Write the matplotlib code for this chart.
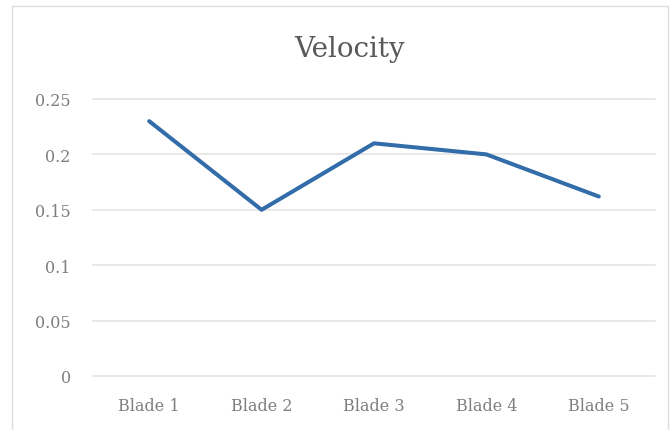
import matplotlib

matplotlib.use("Agg")

import matplotlib.pyplot as plt
from matplotlib.patches import Rectangle


CATEGORIES = ["Blade 1", "Blade 2", "Blade 3", "Blade 4", "Blade 5"]
VELOCITY = [0.23, 0.15, 0.21, 0.2, 0.162]
Y_TICKS = [0, 0.05, 0.1, 0.15, 0.2, 0.25]
Y_TICK_LABELS = ["0", "0.05", "0.1", "0.15", "0.2", "0.25"]

LINE_COLOR = "#326ca9"
TEXT_COLOR = "#7f7f7f"
GRID_COLOR = "#e4e4e4"

plt.rcParams["font.family"] = ["DejaVu Serif"]

W, H = 670, 431
fig = plt.figure(figsize=(W / 100, H / 100), dpi=100)
fig.patch.set_facecolor("white")

# chart frame like the spreadsheet chart border
fig.patches.append(
    Rectangle((12 / W, -0.05), (668 - 12) / W, 1.05 - 7 / H,
              transform=fig.transFigure, fill=False,
              edgecolor="#dcdcdc", linewidth=1.0)
)

ax = fig.add_axes([93 / W, 1 - 377 / H, (655 - 93) / W, (377 - 100) / H])
x = range(len(CATEGORIES))
ax.plot(x, VELOCITY, color=LINE_COLOR, linewidth=2.9, solid_joinstyle="round",
        solid_capstyle="round")

ax.set_xlim(-0.5, len(CATEGORIES) - 0.5)
ax.set_ylim(0, 0.25)
ax.set_xticks(list(x))
ax.set_xticklabels(CATEGORIES)
ax.set_yticks(Y_TICKS)
ax.set_yticklabels(Y_TICK_LABELS)
ax.tick_params(length=0, colors=TEXT_COLOR, labelsize=11.5)
ax.tick_params(axis="x", pad=15)
ax.tick_params(axis="y", pad=16)
ax.grid(axis="y", color=GRID_COLOR, linewidth=1.2)
for line in ax.get_ygridlines():
    line.set_clip_on(False)
ax.set_axisbelow(True)
for spine in ax.spines.values():
    spine.set_visible(False)

fig.text(350 / W, 1 - 57 / H, "Velocity", ha="center", va="baseline",
         fontsize=20, color="#595959")

fig.savefig("out.png", dpi=100)
